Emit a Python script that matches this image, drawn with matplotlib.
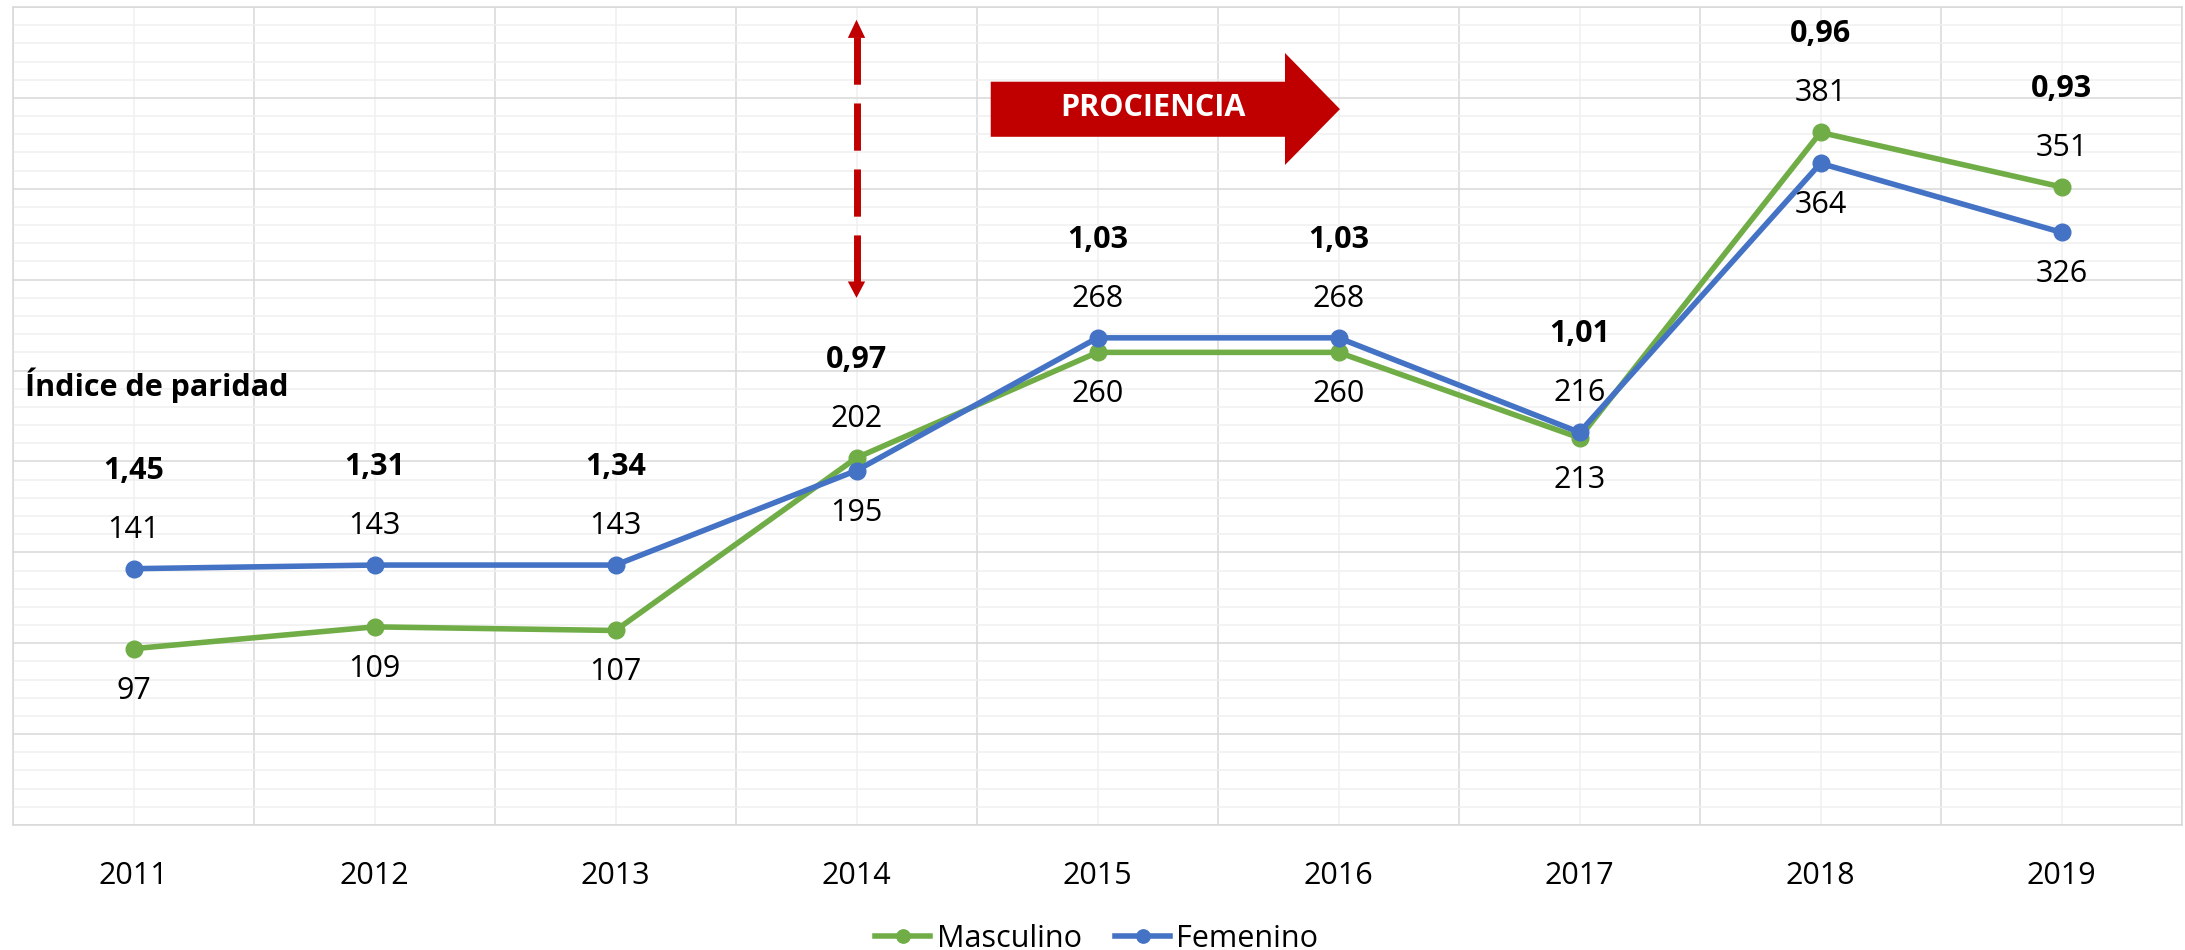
import matplotlib.pyplot as plt
from matplotlib.patches import Polygon
import numpy as np

plt.rcParams['font.family'] = ['Open Sans', 'DejaVu Sans']

# datos
years = ['2011', '2012', '2013', '2014', '2015', '2016', '2017', '2018', '2019']
masculino = [97, 109, 107, 202, 260, 260, 213, 381, 351]
femenino = [141, 143, 143, 195, 268, 268, 216, 364, 326]
paridad = ['1,45', '1,31', '1,34', '0,97', '1,03', '1,03', '1,01', '0,96', '0,93']

GREEN = '#70AD47'
BLUE = '#4472C4'
RED = '#C00000'
FS = 22

fig = plt.figure(figsize=(21.85, 9.5), dpi=100)
ax = fig.add_axes([13 / 2185, 1 - 825 / 950, 2169 / 2185, 818 / 950])

x = np.arange(len(years))
ax.plot(x, masculino, color=GREEN, lw=4, marker='o', ms=12, label='Masculino', zorder=4)
ax.plot(x, femenino, color=BLUE, lw=4, marker='o', ms=12, label='Femenino', zorder=5)

ax.set_xlim(-0.5, len(years) - 0.5)
ax.set_ylim(0, 450)
ax.set_yticks(np.arange(0, 451, 50))
ax.set_yticks(np.arange(0, 451, 10), minor=True)
ax.set_xticks(x, years)
ax.set_xticks(np.arange(-0.5, len(years), 1), minor=True)

# rejilla estilo excel
ax.grid(axis='y', which='major', color='#D9D9D9', lw=1.1)
ax.grid(axis='y', which='minor', color='#F0F0F0', lw=1.1)
ax.grid(axis='x', which='major', color='#F0F0F0', lw=1.1)
ax.grid(axis='x', which='minor', color='#D9D9D9', lw=1.1)
ax.set_axisbelow(True)
for s in ax.spines.values():
    s.set_color('#D9D9D9')
    s.set_linewidth(1.1)
ax.tick_params(which='both', length=0)
ax.tick_params(axis='y', labelleft=False)
ax.tick_params(axis='x', labelsize=FS, pad=26)

# etiquetas de valores
for i in x:
    for vals, other in ((masculino, femenino), (femenino, masculino)):
        up = vals[i] >= other[i]
        ax.annotate(str(vals[i]), (i, vals[i]), xytext=(0, 39 if up else -42),
                    textcoords='offset pixels', ha='center', va='center', fontsize=FS)
    top = max(masculino[i], femenino[i])
    ax.annotate(paridad[i], (i, top), xytext=(0, 98), textcoords='offset pixels',
                ha='center', va='center', fontsize=FS, fontweight='bold')

ax.text(-0.45, 242, 'Índice de paridad', ha='left', va='center', fontsize=FS,
        fontweight='bold')

# flecha discontinua en 2014
ax.plot([3, 3], [433.5, 298.5], color=RED, lw=5, dashes=(6.8, 2.7), zorder=3)
ax.fill([3 - 0.036, 3 + 0.036, 3], [433, 433, 443], color=RED, lw=0, zorder=3)
ax.fill([3 - 0.036, 3 + 0.036, 3], [299, 299, 290], color=RED, lw=0, zorder=3)

# flecha PROCIENCIA
arrow = Polygon([(3.557, 378.6), (3.557, 408.9), (4.778, 408.9), (4.778, 424.7),
                 (5.006, 393.8), (4.778, 363.1), (4.778, 378.6)],
                closed=True, facecolor=RED, edgecolor='none', zorder=3)
ax.add_patch(arrow)
ax.text(4.23, 394.5, 'PROCIENCIA', color='white', fontsize=22, fontweight='bold',
        ha='center', va='center', zorder=4)

fig.legend(loc='center', bbox_to_anchor=(0.502, 1 - 939 / 950), ncol=2, frameon=False,
           fontsize=FS, handlelength=1.8, handletextpad=0.2, columnspacing=1.1,
           markerscale=0.8)

fig.savefig('out.png', dpi=100)
